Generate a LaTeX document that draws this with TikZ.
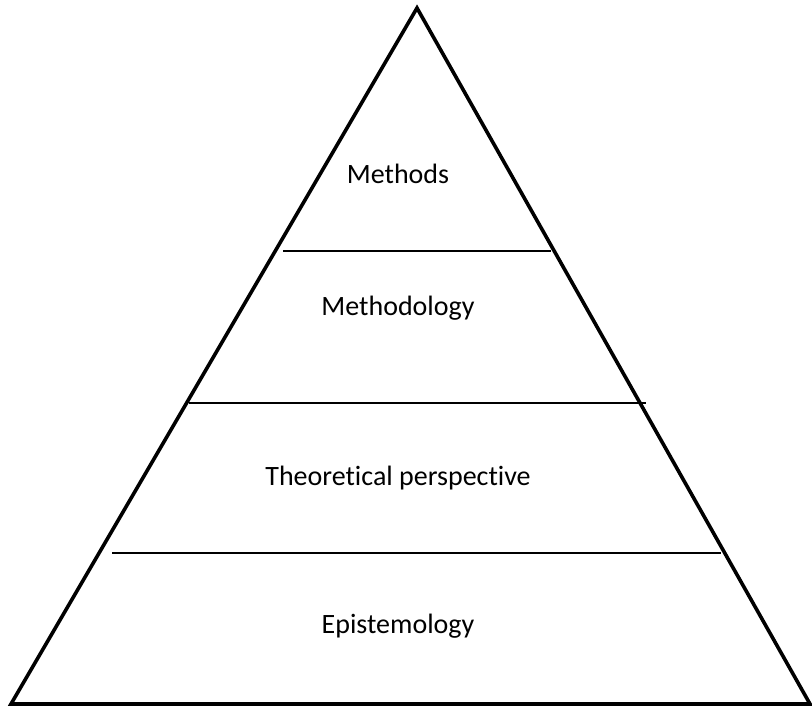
\documentclass[tikz,border=0pt]{standalone}
\usepackage{fontspec}
\setmainfont{Carlito}[Ligatures=NoCommon]
\usetikzlibrary{positioning}

\begin{document}
\begin{tikzpicture}[
            x=1pt,
            y=-1pt,
            edge/.style={
                line width=3.6pt,
                line join=miter
            },
            layer/.style={
                line width=2pt
            },
            label/.style={
                font=\fontsize{28}{34}\selectfont,
                inner sep=0pt,
                anchor=base
            }
        ]
            \useasboundingbox (0,0) rectangle (812,706);

            % Vertices da piramide
            \coordinate (apex) at (417,8);
            \coordinate (left) at (11,704);
            \coordinate (right) at (810,704);
            \draw [edge] (left) -- (apex) -- (right) -- cycle;

            % Divisoes entre camadas
            \coordinate (d1l) at (283,251);
            \coordinate (d1r) at (551,251);
            \coordinate (d2l) at (189,403);
            \coordinate (d2r) at (646,403);
            \coordinate (d3l) at (112,553);
            \coordinate (d3r) at (721,553);
            \draw [layer] (d1l) -- (d1r);
            \draw [layer] (d2l) -- (d2r);
            \draw [layer] (d3l) -- (d3r);

            % Rotulos das camadas
            \node [label] (methods) at (398,184) {Methods};
            \node [label] (methodology) at (398,315) {Methodology};
            \node [label] (theory) at (398,485) {Theoretical perspective};
            \node [label] (epist) at (398,633) {Epistemology};
        \end{tikzpicture}
\end{document}
